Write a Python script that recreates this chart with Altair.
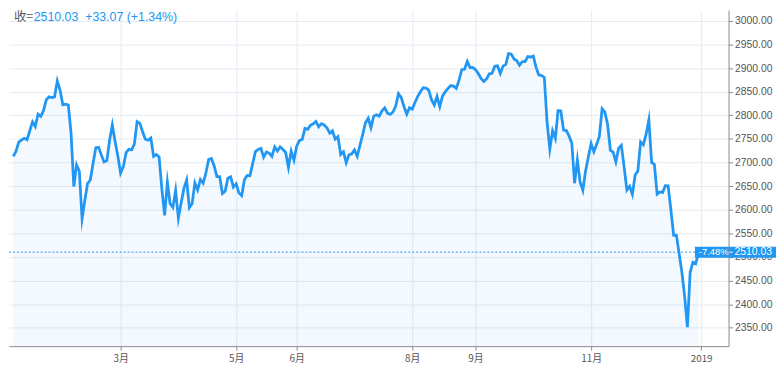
import altair as alt
import pandas as pd

# Daily closes, 3 Jan 2018 .. 31 Dec 2018
closes = [
    # Jan
    2713.06, 2723.99, 2743.15, 2747.71, 2751.29, 2748.23, 2767.56, 2786.24, 2776.42, 2802.56,
    2798.03, 2810.30, 2832.97, 2839.13, 2837.54, 2839.25, 2872.87, 2853.53, 2822.43, 2823.81,
    # Feb
    2821.98, 2762.13, 2648.94, 2695.14, 2681.66, 2581.00, 2619.55, 2656.00, 2662.94, 2698.63,
    2731.20, 2732.22, 2716.26, 2701.33, 2703.96, 2747.30, 2779.60, 2744.28, 2713.83,
    # Mar
    2677.67, 2691.25, 2720.94, 2728.12, 2726.80, 2738.97, 2786.57, 2783.02, 2765.31, 2749.48,
    2747.33, 2752.01, 2712.92, 2716.94, 2711.93, 2643.69, 2588.26, 2658.55, 2612.62, 2605.00,
    2640.87,
    # Apr
    2581.88, 2614.45, 2644.69, 2662.84, 2604.47, 2613.16, 2656.87, 2642.19, 2663.99, 2656.30,
    2677.84, 2706.39, 2708.64, 2693.13, 2670.14, 2670.29, 2634.56, 2639.40, 2666.94, 2669.91,
    2648.05,
    # May
    2654.80, 2635.67, 2629.73, 2663.42, 2672.63, 2671.92, 2697.79, 2723.07, 2727.72, 2730.13,
    2711.45, 2722.46, 2720.13, 2712.97, 2733.01, 2724.44, 2733.29, 2727.76, 2721.33, 2689.86,
    2724.01, 2705.27,
    # Jun
    2734.62, 2746.87, 2748.80, 2772.35, 2770.37, 2779.03, 2782.00, 2786.85, 2775.63, 2782.49,
    2779.66, 2773.75, 2762.59, 2767.32, 2749.76, 2754.88, 2717.07, 2723.06, 2699.63, 2716.31,
    2718.37,
    # Jul
    2726.71, 2713.22, 2736.61, 2759.82, 2784.17, 2793.84, 2774.02, 2798.29, 2801.31, 2798.43,
    2809.55, 2815.62, 2804.49, 2801.83, 2806.98, 2820.40, 2846.07, 2837.44, 2818.82, 2802.60,
    2816.29,
    # Aug
    2813.36, 2827.22, 2840.35, 2850.40, 2858.45, 2857.70, 2853.58, 2833.28, 2821.93, 2839.96,
    2818.37, 2840.69, 2850.13, 2857.05, 2862.96, 2861.82, 2856.98, 2874.69, 2896.74, 2897.52,
    2914.04, 2901.13, 2901.52,
    # Sep
    2896.72, 2888.60, 2878.05, 2871.68, 2877.13, 2887.89, 2888.92, 2904.18, 2904.98, 2888.80,
    2904.31, 2907.95, 2930.75, 2929.67, 2919.37, 2915.56, 2905.97, 2914.00, 2913.98,
    # Oct
    2924.59, 2923.43, 2925.51, 2901.61, 2885.57, 2884.43, 2880.34, 2785.68, 2728.37, 2767.13,
    2750.79, 2809.92, 2809.21, 2768.78, 2767.78, 2755.88, 2740.69, 2656.10, 2705.57, 2658.69,
    2641.25, 2682.63, 2711.74,
    # Nov
    2740.37, 2723.06, 2738.31, 2755.45, 2813.89, 2806.83, 2781.01, 2726.22, 2722.18, 2701.58,
    2730.20, 2736.27, 2690.73, 2641.89, 2649.93, 2632.56, 2673.45, 2682.17, 2743.79, 2737.80,
    2760.17,
    # Dec
    2790.37, 2700.06, 2695.95, 2633.08, 2637.72, 2636.78, 2651.07, 2650.54, 2599.95, 2545.94,
    2546.16, 2506.96, 2467.42, 2416.62, 2351.10, 2467.70, 2488.83, 2485.74, 2506.85,
]

# bar index of the first trading day of each labelled month
month_tick_index = [39, 81, 103, 145, 168, 210, 250]
month_tick_labels = ["3月", "5月", "6月", "8月", "9月", "11月", "2019"]
y_ticks = [2350, 2400, 2450, 2500, 2550, 2600, 2650, 2700, 2750, 2800, 2850, 2900, 2950, 3000]

last_price = 2510.03
change_pct_label = "-7.48%"
last_price_label = "2510.03"
header_prefix = "收="
header_values = "2510.03\u00a0 +33.07 (+1.34%)"

W, H = 728, 340
X_DOMAIN = [-1.56, 259.96]
Y_DOMAIN = [2311, 3023]

BLUE = "#2196f3"
GRID = "#e3ebf3"
AXIS = "#8a8a8a"
LABEL = "#555555"
FONT = "Liberation Sans, Noto Sans CJK SC, sans-serif"
CJK = "Noto Sans CJK SC, Liberation Sans, sans-serif"

df = pd.DataFrame({"i": list(range(len(closes))), "close": closes})

label_expr = "''"
for idx, lab in reversed(list(zip(month_tick_index, month_tick_labels))):
    label_expr = f"datum.value == {idx} ? '{lab}' : ({label_expr})"

x_scale = alt.Scale(domain=X_DOMAIN, nice=False, zero=False)
y_scale = alt.Scale(domain=Y_DOMAIN, nice=False, zero=False)

x_axis = alt.Axis(values=month_tick_index, labelExpr=label_expr, grid=True, gridColor=GRID,
                  domainColor=AXIS, tickColor=AXIS, tickSize=4, labelColor=LABEL,
                  labelFontSize=10, labelFont=CJK, labelPadding=4, labelFlush=False, title=None)
y_axis = alt.Axis(orient="right", values=y_ticks, format=".2f", grid=True, gridColor=GRID,
                  domainColor=AXIS, tickColor=AXIS, tickSize=4, labelColor=LABEL,
                  labelFontSize=10.5, labelFont=FONT, labelPadding=2, title=None)

x_enc = alt.X("i:Q", scale=x_scale, title=None, axis=x_axis)
y_enc = alt.Y("close:Q", scale=y_scale, title=None, axis=y_axis)

base = alt.Chart(df)
area = base.mark_area(color=BLUE, opacity=0.055, clip=True).encode(
    x=x_enc, y=y_enc, y2=alt.datum(Y_DOMAIN[0])
)
line = base.mark_line(color=BLUE, strokeWidth=2.8, strokeMiterLimit=10, clip=True).encode(
    x=x_enc, y=y_enc
)

pdf = pd.DataFrame({"p": [last_price]})
pbase = alt.Chart(pdf)
py = alt.Y("p:Q", scale=y_scale, title=None, axis=y_axis)

price_rule = pbase.mark_rule(color=BLUE, strokeDash=[2, 2], strokeWidth=1).encode(
    y=py, x=alt.value(0), x2=alt.value(W)
)
price_box = pbase.mark_rect(color=BLUE, yOffset=-5.5, y2Offset=5.5).encode(
    y=py, y2="p:Q", x=alt.value(W - 34), x2=alt.value(W + 48),
)
axis_seg = pbase.mark_rule(color=AXIS, strokeWidth=1, yOffset=-5.5, y2Offset=5.5).encode(
    y=py, y2="p:Q", x=alt.value(W + 0.5),
)
tick_seg = pbase.mark_rule(color="white", strokeWidth=1).encode(
    y=py, x=alt.value(W + 1), x2=alt.value(W + 4),
)
pct_text = pbase.mark_text(color="white", fontSize=9.5, font=FONT, align="center",
                           baseline="middle").encode(
    y=py, x=alt.value(W - 15), text=alt.value(change_pct_label),
)
price_text = pbase.mark_text(color="white", fontSize=10.5, font=FONT, align="left",
                             baseline="middle").encode(
    y=py, x=alt.value(W + 6), text=alt.value(last_price_label),
)

hdf = pd.DataFrame({"a": [header_prefix], "b": [header_values]})
header1 = alt.Chart(hdf).mark_text(color=LABEL, fontSize=12.5, font=CJK, align="left",
                                   baseline="middle").encode(
    x=alt.value(5), y=alt.value(7), text="a:N"
)
header2 = alt.Chart(hdf).mark_text(color=BLUE, fontSize=12.5, font=FONT, align="left",
                                   baseline="middle").encode(
    x=alt.value(25), y=alt.value(7), text="b:N"
)

chart = alt.layer(
    area, line, price_rule, price_box, axis_seg, tick_seg, pct_text, price_text, header1, header2
).properties(
    width=W, height=H, padding=0, background="white"
).configure_view(stroke=None)

chart.save("out.html", embed_options={"renderer": "svg", "actions": False})
